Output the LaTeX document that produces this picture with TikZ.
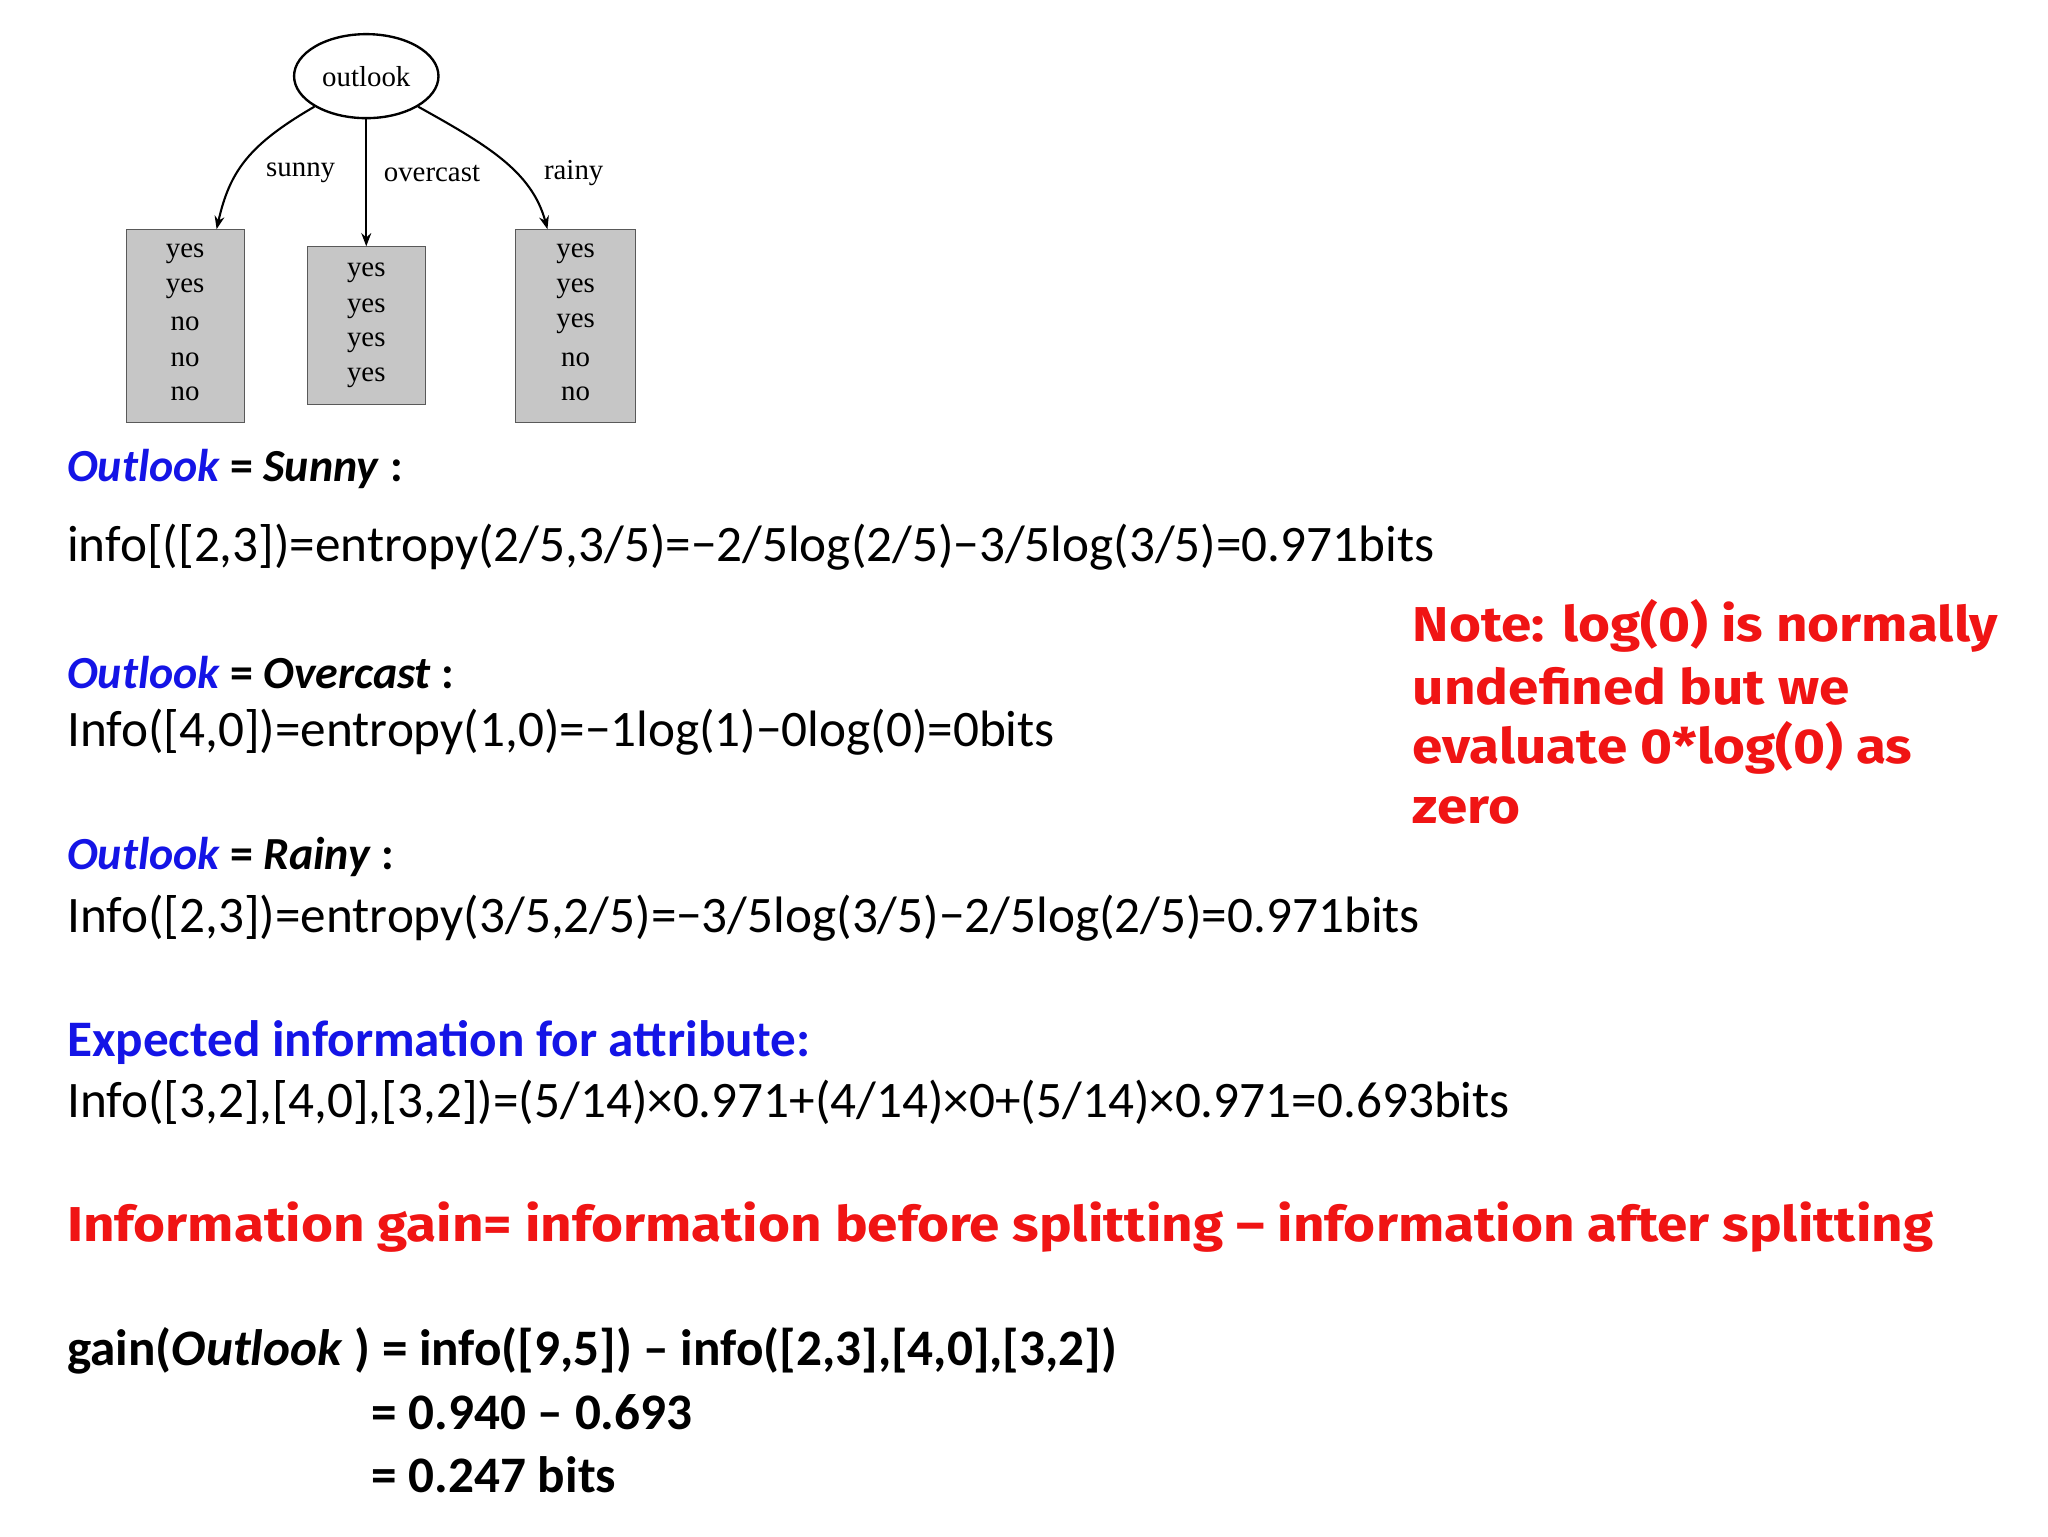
\documentclass[tikz,border=0pt]{standalone}
\usepackage{fontspec}
\setmainfont{Carlito}
\newfontfamily\treefont{Liberation Serif}
\newfontfamily\notefont[FakeStretch=1.12]{Fira Sans}
\usetikzlibrary{shapes.geometric,arrows.meta}
\definecolor{oblue}{RGB}{20,20,230}
\definecolor{ored}{RGB}{240,20,20}
\begin{document}
\begin{tikzpicture}[x=1pt,y=-1pt,
  txt/.style={anchor=west,inner sep=0pt,font=\fontsize{39}{44}\selectfont},
  hd/.style={anchor=west,inner sep=0pt,font=\fontsize{39}{44}\selectfont\bfseries},
  hs/.style={anchor=west,inner sep=0pt,font=\fontsize{35}{40}\selectfont\bfseries},
  note/.style={anchor=west,inner sep=0pt,text=ored,font=\fontsize{37.3}{42}\selectfont\notefont\bfseries},
  leaf/.style={draw=gray!70!black,thick,fill=gray!45,inner sep=0pt},
  lt/.style={font=\fontsize{22}{25}\selectfont\treefont,inner sep=0pt},
  br/.style={draw,line width=1.6pt,-{Stealth[length=10pt]}}]
\useasboundingbox (0,0) rectangle (1560,1170);
% tree
\node[draw,line width=1.8pt,ellipse,minimum width=110,minimum height=64,lt] (root) at (279,58) {outlook};
\node[leaf,minimum width=90,minimum height=147] (b1) at (141,248.5) {};
\node[leaf,minimum width=90,minimum height=120] (b2) at (279,248) {};
\node[leaf,minimum width=91,minimum height=147] (b3) at (438.5,248.5) {};
\foreach \y/\t in {193/yes,220/yes,247/no,274/no,300/no}{\node[lt] at (141,\y) {\t};}
\foreach \y/\t in {208/yes,235/yes,261/yes,288/yes}{\node[lt] at (279,\y) {\t};}
\foreach \y/\t in {193/yes,220/yes,247/yes,274/no,300/no}{\node[lt] at (438.5,\y) {\t};}
\draw[br] (root.south west) .. controls (190,110) and (175,130) .. (b1.north -| 165,0);
\draw[br] (root.south) -- (b2.north);
\draw[br] (root.south east) .. controls (370,110) and (405,130) .. (b3.north -| 417,0);
\node[lt] at (229,132) {sunny};
\node[lt] at (329,132) {overcast};
\node[lt] at (437,132) {rainy};
% text
\node[hs] (h1) at (51,357) {\textcolor{oblue}{\itshape Outlook} = \textit{Sunny} :};
\node[txt] (l1) at (51,417) {info[([2,3])=entropy(2/5,3/5)=−2/5log(2/5)−3/5log(3/5)=0.971bits};
\node[hs] (h2) at (51,512) {\textcolor{oblue}{\itshape Outlook} = \textit{Overcast} :};
\node[txt] (l2) at (51,558) {Info([4,0])=entropy(1,0)=−1log(1)−0log(0)=0bits};
\node[hs] (h3) at (51,653) {\textcolor{oblue}{\itshape Outlook} = \textit{Rainy} :};
\node[txt] (l3) at (51,699) {Info([2,3])=entropy(3/5,2/5)=−3/5log(3/5)−2/5log(2/5)=0.971bits};
\node[hd,text=oblue] (h4) at (51,794) {Expected information for attribute:};
\node[txt] (l4) at (51,840) {Info([3,2],[4,0],[3,2])=(5/14)×0.971+(4/14)×0+(5/14)×0.971=0.693bits};
\node[note] (ig) at (51,935) {Information gain= information before splitting – information after splitting};
\node[hd] (g1) at (51,1029) {gain(\textit{Outlook} ) = info([9,5]) – info([2,3],[4,0],[3,2])};
\node[hd] (g2) at (283,1076) {= 0.940 – 0.693};
\node[hd] (g3) at (283,1123) {= 0.247 bits};
\node[note] (n1) at (1076,477) {Note: log(0) is normally};
\node[note] (n2) at (1076,523) {undefined but we};
\node[note] (n3) at (1076,570) {evaluate 0*log(0) as};
\node[note] (n4) at (1076,617) {zero};
\end{tikzpicture}
\end{document}
